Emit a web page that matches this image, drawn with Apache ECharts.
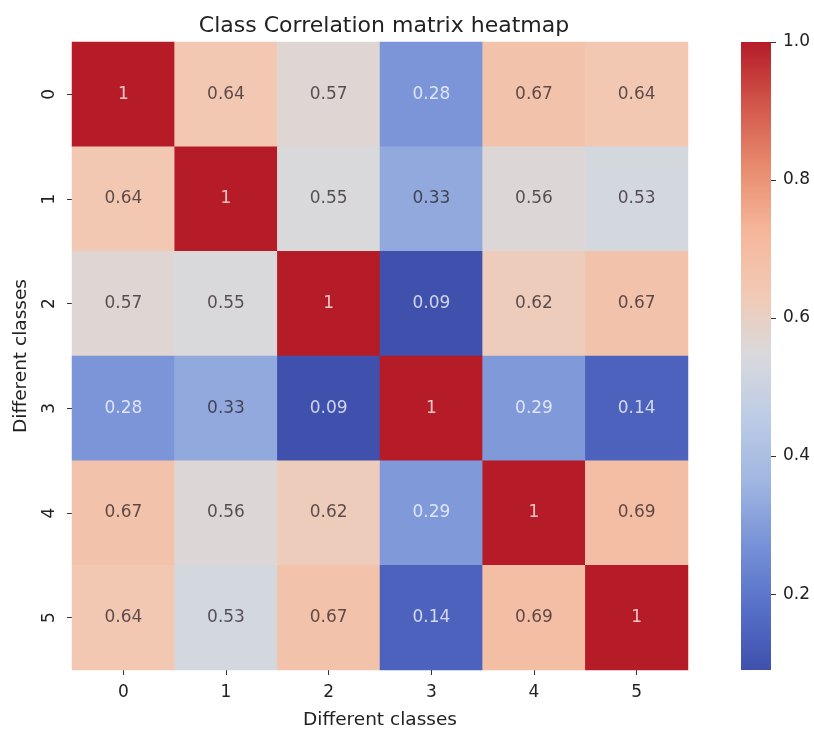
<!DOCTYPE html>
<html><head><meta charset="utf-8">
<script src="https://cdn.jsdelivr.net/npm/echarts@6/dist/echarts.min.js"></script>
<style>html,body{margin:0;padding:0;background:#fff}#c{width:814px;height:729px}</style>
</head><body><div id="c"></div>
<script>
const classes = ['0','1','2','3','4','5'];
const row0 = [1, 0.64, 0.57, 0.28, 0.67, 0.64];
const row1 = [0.64, 1, 0.55, 0.33, 0.56, 0.53];
const row2 = [0.57, 0.55, 1, 0.09, 0.62, 0.67];
const row3 = [0.28, 0.33, 0.09, 1, 0.29, 0.14];
const row4 = [0.67, 0.56, 0.62, 0.29, 1, 0.69];
const row5 = [0.64, 0.53, 0.67, 0.14, 0.69, 1];
const colorbarTicks = [0.2, 0.4, 0.6, 0.8, 1.0];
const vMin = 0.09, vMax = 1.0;
const palette = ['#3f51ad','#5770c8','#7792d7','#a0b6e1','#bccbe6','#d8d9dd','#f2c9b4','#f5b69a','#e88b6e','#d2574b','#b51c28'];

const rows = [row0,row1,row2,row3,row4,row5];
const data = [];
rows.forEach((r, i) => r.forEach((v, j) => {
  const white = v < 0.3 || v > 0.9;
  data.push({value:[j, i, v], label:{color: white ? 'rgba(255,255,255,0.75)' : 'rgba(35,25,30,0.72)'}});
}));

const FONT = 'DejaVu Sans';
const CB = {left:741, top:42, width:30, height:628};
const chart = echarts.init(document.getElementById('c'));
chart.setOption({
  backgroundColor:'#fff',
  animation:false,
  textStyle:{fontFamily:FONT},
  title:{text:'Class Correlation matrix heatmap', left:379, top:10, textAlign:'center',
    textStyle:{fontFamily:FONT, fontSize:22, fontWeight:'normal', color:'#222'}},
  grid:[
    {left:72, top:42, width:616, height:628, outerBoundsMode:'none', containLabel:false},
    {left:CB.left + CB.width, top:CB.top, width:30, height:CB.height, outerBoundsMode:'none', containLabel:false}
  ],
  graphic:[{type:'rect', left:CB.left, top:CB.top, z:1,
    shape:{width:CB.width, height:CB.height},
    style:{fill:new echarts.graphic.LinearGradient(0,1,0,0,
      palette.map((c,k)=>({offset:k/(palette.length-1), color:c})))}}],
  xAxis:[
    {type:'category', data:classes, gridIndex:0, position:'bottom',
     name:'Different classes', nameLocation:'middle', nameGap:41,
     nameTextStyle:{fontFamily:FONT, fontSize:18.5, color:'#222'},
     axisLine:{show:false}, splitLine:{show:false},
     axisTick:{show:true, alignWithLabel:true, length:5, lineStyle:{color:'#333'}},
     axisLabel:{fontFamily:FONT, fontSize:17, color:'#222', margin:14}},
    {type:'value', gridIndex:1, show:false, min:0, max:1}
  ],
  yAxis:[
    {type:'category', data:classes, gridIndex:0, inverse:true,
     name:'Different classes', nameLocation:'middle', nameGap:41, nameRotate:90,
     nameTextStyle:{fontFamily:FONT, fontSize:18.5, color:'#222'},
     axisLine:{show:false}, splitLine:{show:false},
     axisTick:{show:true, alignWithLabel:true, length:5, lineStyle:{color:'#333'}},
     axisLabel:{fontFamily:FONT, fontSize:17, color:'#222', rotate:90, margin:14}},
    {type:'value', gridIndex:1, position:'left', min:vMin, max:vMax, z:5,
     axisLine:{show:false}, splitLine:{show:false},
     axisTick:{show:true, inside:true, length:5, lineStyle:{color:'#333'}, customValues:colorbarTicks},
     axisLabel:{show:true, inside:true, fontFamily:FONT, fontSize:17, color:'#222', margin:12, customValues:colorbarTicks,
       formatter:v=>v.toFixed(1)}}
  ],
  visualMap:{type:'continuous', min:vMin, max:vMax, show:false, seriesIndex:0,
    inRange:{color:palette}},
  series:[{type:'heatmap', xAxisIndex:0, yAxisIndex:0, data:data,
    label:{show:true, fontFamily:FONT, fontSize:17, formatter:p=>String(p.value[2])},
    itemStyle:{borderWidth:0}}]
});
</script></body></html>
